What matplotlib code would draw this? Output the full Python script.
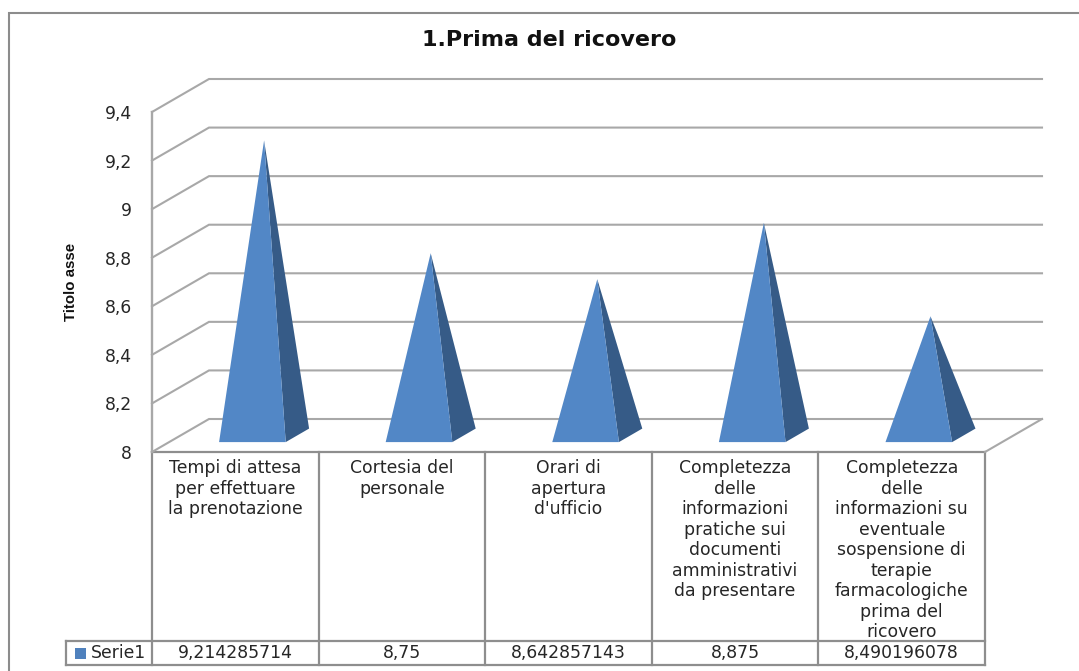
import numpy as np
import matplotlib
matplotlib.use('Agg')
import matplotlib.pyplot as plt
from matplotlib.patches import Polygon

categories = ['Tempi di attesa\nper effettuare\nla prenotazione',
              'Cortesia del\npersonale',
              'Orari di\napertura\nd\'ufficio',
              'Completezza\ndelle\ninformazioni\npratiche sui\ndocumenti\namministrativi\nda presentare',
              'Completezza\ndelle\ninformazioni su\neventuale\nsospensione di\nterapie\nfarmacologiche\nprima del\nricovero']
values = [9.214285714, 8.75, 8.642857143, 8.875, 8.490196078]
value_labels = ['9,214285714', '8,75', '8,642857143', '8,875', '8,490196078']
series_name = 'Serie1'
y_ticks = [8, 8.2, 8.4, 8.6, 8.8, 9, 9.2, 9.4]
y_tick_labels = ['8', '8,2', '8,4', '8,6', '8,8', '9', '9,2', '9,4']

W, H = 1079, 671
GRID = '#a8a8a8'
LINE = '#8e8e8e'
FRONT = '#5287c6'
SIDE = '#365b87'
TEXT = '#262626'
FS = 12.4

fig = plt.figure(figsize=(W / 100, H / 100), dpi=100, facecolor='white')

# pixel overlay for the outer frame and the data table
bg = fig.add_axes([0, 0, 1, 1], zorder=0)
bg.set_xlim(0, W)
bg.set_ylim(H, 0)
bg.axis('off')

# plot area is the front plane of the 3d box
left, right, top, floor = 152, 985, 112, 452
ax = fig.add_axes([left / W, 1 - floor / H, (right - left) / W, (floor - top) / H], zorder=1)
ax.patch.set_alpha(0)
ax.set_xlim(0, 5)
ax.set_ylim(8, 9.4)
for s in ax.spines.values():
    s.set_visible(False)
ax.set_xticks([])
ax.set_yticks(y_ticks)
ax.set_yticklabels(y_tick_labels, fontsize=FS, color=TEXT)
ax.tick_params(axis='y', length=0, pad=14.5)

# depth of the box, in data units
dx = 57 / ((right - left) / 5)
dy = 33 / ((floor - top) / 1.4)


def project(x, y, depth):
    return x + depth * dx, y + depth * dy


# walls
for t in y_ticks:
    bx, by = project(0, t, 1)
    ax.plot([0, bx, 5 + dx], [t, by, by], color=GRID, lw=1.5, clip_on=False, zorder=1,
            solid_joinstyle='miter')
ax.plot([0, 0], [8, 9.4], color=GRID, lw=1.7, clip_on=False, zorder=1)
ax.plot([5, 5 + dx], [8, 8 + dy], color=GRID, lw=1.5, clip_on=False, zorder=1)

# pyramids
half = 0.2
d0, d1 = 0.30, 0.71
for i, v in enumerate(values):
    c = i + 0.5
    apex = project(c, v, (d0 + d1) / 2)
    fl = project(c - half, 8, d0)
    fr = project(c + half, 8, d0)
    br = project(c + half, 8, d1)
    ax.add_patch(Polygon([fr, br, apex], closed=True, fc=SIDE, ec='none', clip_on=False, zorder=3))
    ax.add_patch(Polygon([fl, fr, apex], closed=True, fc=FRONT, ec='none', clip_on=False, zorder=4))

# data table
col_x = [left + (right - left) * k / 5 for k in range(6)]
row_top, row_mid, row_bot = floor, 641, 665
bg.plot([left, right], [row_top, row_top], color=LINE, lw=1.6)
bg.plot([66, right], [row_mid, row_mid], color=LINE, lw=1.6)
bg.plot([66, right], [row_bot, row_bot], color=LINE, lw=1.6)
bg.plot([66, 66], [row_mid, row_bot], color=LINE, lw=1.6)
for x in col_x:
    bg.plot([x, x], [row_top, row_bot], color=LINE, lw=1.6)

for i in range(5):
    cx = (col_x[i] + col_x[i + 1]) / 2
    bg.text(cx, 459, categories[i], ha='center', va='top', fontsize=FS, color=TEXT, linespacing=1.18)
    bg.text(cx, 653.5, value_labels[i], ha='center', va='center', fontsize=FS, color=TEXT)

# legend key in the table
bg.add_patch(Polygon([(75, 648), (86, 648), (86, 659), (75, 659)], closed=True, fc='#4f81bd', ec='none'))
bg.text(91, 653, series_name, ha='left', va='center', fontsize=FS, color=TEXT)

# outer frame
bg.plot([9, 9, W], [H, 13, 13], color='#8c8c8c', lw=1.5, solid_joinstyle='miter')

bg.text(549, 40, '1.Prima del ricovero', ha='center', va='center', fontsize=16, fontweight='bold', color='#111111')
bg.text(71, 282, 'Titolo asse', rotation=90, ha='center', va='center', fontsize=10.8,
        fontweight='bold', family='Liberation Sans', color='#111111')

fig.savefig('out.png', dpi=100)
